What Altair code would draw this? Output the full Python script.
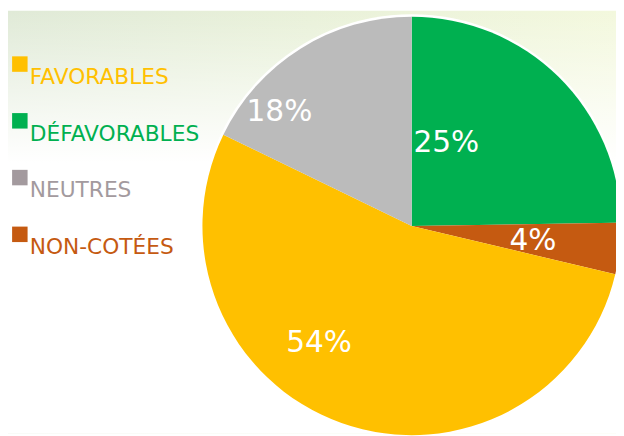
import altair as alt
import pandas as pd

# ---- data ----
pie_categories = ["DÉFAVORABLES", "NON-COTÉES", "FAVORABLES", "NEUTRES"]  # clockwise from 12 o'clock
pie_values = [25, 4, 54, 18]
legend_items = ["FAVORABLES", "DÉFAVORABLES", "NEUTRES", "NON-COTÉES"]

# ---- styles ----
pie_colors = ["#00B050", "#C55A11", "#FFC000", "#BBBBBB"]
legend_colors = ["#FFC000", "#00B050", "#A39A9E", "#C55A11"]

W, H = 616, 428
CX, CY, R = 409, 218, 212
FONT = "DejaVu Sans"

pie_df = pd.DataFrame({"category": pie_categories, "value": pie_values,
                       "order": list(range(len(pie_categories)))})
legend_df = pd.DataFrame({"item": legend_items})
one = pd.DataFrame({"k": [0]})

grad_h = {"gradient": "linear", "x1": 0, "y1": 0, "x2": 1, "y2": 0,
          "stops": [{"offset": 0, "color": "#E0EAD7"},
                    {"offset": 0.5, "color": "#E9F1D9"},
                    {"offset": 1, "color": "#F3F8DD"}]}
grad_v = {"gradient": "linear", "x1": 0, "y1": 0, "x2": 0, "y2": 1,
          "stops": [{"offset": 0, "color": "rgba(255,255,255,0)"},
                    {"offset": 0.36, "color": "rgba(255,255,255,1)"},
                    {"offset": 1, "color": "rgba(255,255,255,1)"}]}

bg1 = alt.Chart(one).mark_rect(color=grad_h).encode(
    x=alt.value(0), x2=alt.value(W), y=alt.value(0), y2=alt.value(H))
bg2 = alt.Chart(one).mark_rect(color=grad_v).encode(
    x=alt.value(0), x2=alt.value(W), y=alt.value(0), y2=alt.value(H))

outline = alt.Chart(one).mark_circle(size=(2 * R + 5) ** 2, color="white", opacity=1).encode(
    x=alt.value(CX), y=alt.value(CY))

pie = alt.Chart(pie_df).mark_arc(radius=R).encode(
    theta=alt.Theta("value:Q", stack=True),
    order=alt.Order("order:Q"),
    color=alt.Color("category:N", scale=alt.Scale(domain=pie_categories, range=pie_colors), legend=None),
    x=alt.value(CX), y=alt.value(CY),
)

label_specs = [
    ("DÉFAVORABLES", 90.6, -28.5, -19.4),
    ("NON-COTÉES", 123, 0.5, 1.6),
    ("FAVORABLES", 151.6, -43, -24),
    ("NEUTRES", 177, -40, 34.4),
]
label_layers = []
for cat, rr, ddx, ddy in label_specs:
    label_layers.append(
        alt.Chart(pie_df).transform_calculate(label="datum.value + '%'")
        .mark_text(radius=rr, dx=ddx, dy=ddy, fontSize=30, font=FONT, color="white",
                   align="center", baseline="middle")
        .encode(
            theta=alt.Theta("value:Q", stack=True),
            order=alt.Order("order:Q"),
            text=alt.condition(alt.datum.category == cat, alt.Text("label:N"), alt.value("")),
            x=alt.value(CX), y=alt.value(CY),
        )
    )

ly = alt.Y("item:N", sort=legend_items, axis=None,
           scale=alt.Scale(type="point", range=[54, 226.5], padding=0))
lc = alt.Color("item:N", scale=alt.Scale(domain=legend_items, range=legend_colors), legend=None)

leg_sq = alt.Chart(legend_df).mark_square(size=246, opacity=1).encode(
    x=alt.value(12), y=ly, color=lc)
leg_tx = alt.Chart(legend_df).mark_text(align="left", baseline="middle", dy=13,
                                        fontSize=22, font=FONT).encode(
    x=alt.value(22), y=ly, color=lc, text="item:N")

chart = alt.layer(bg1, bg2, outline, pie, *label_layers, leg_sq, leg_tx).resolve_scale(
    color="independent"
).properties(
    width=W, height=H, padding=0, background="white",
    autosize=alt.AutoSizeParams(type="none"),
).configure_view(stroke=None)

chart.save("out.html", embed_options={"renderer": "svg", "actions": False})
